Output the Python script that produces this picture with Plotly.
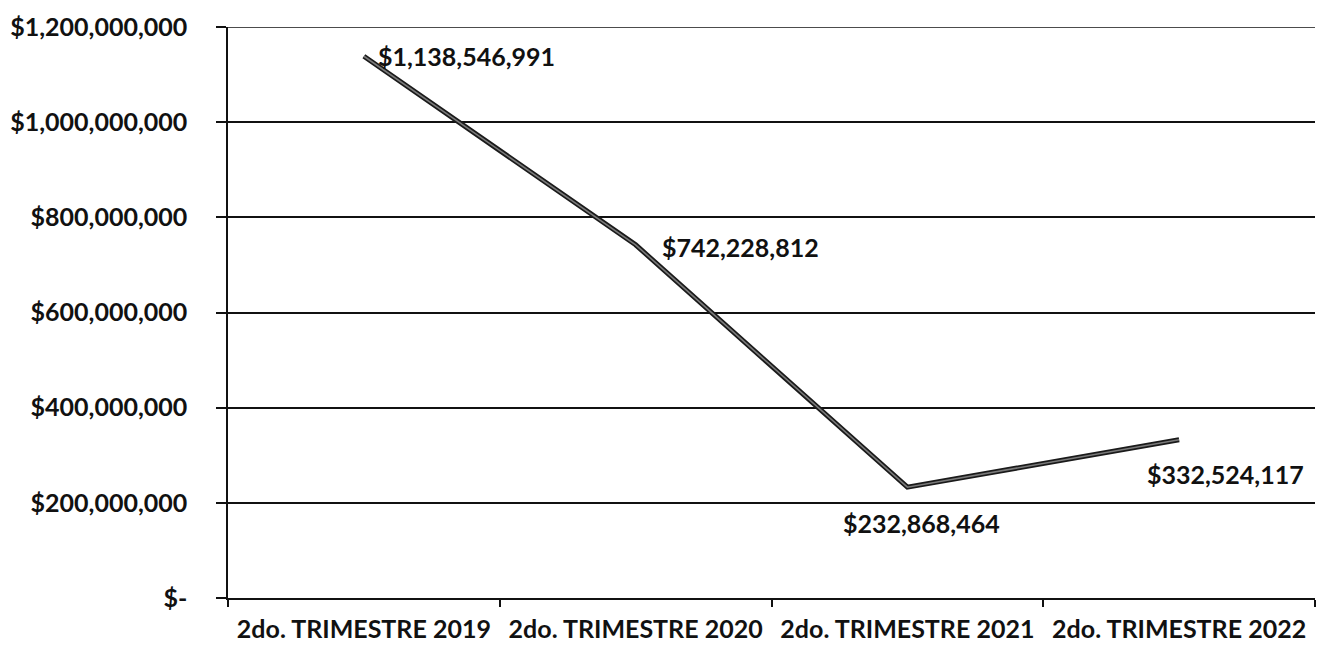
import plotly.graph_objects as go

# Quarterly amounts
periods = ["2do. TRIMESTRE 2019", "2do. TRIMESTRE 2020", "2do. TRIMESTRE 2021", "2do. TRIMESTRE 2022"]
amounts = [1138546991, 742228812, 232868464, 332524117]

y_ticks = [0, 200000000, 400000000, 600000000, 800000000, 1000000000, 1200000000]
y_tick_text = ["$-", "$200,000,000", "$400,000,000", "$600,000,000",
               "$800,000,000", "$1,000,000,000", "$1,200,000,000"]
y_max = y_ticks[-1]

FONT = "Lato"
SIZE = 25
INK = "#111"

fig = go.Figure()

# dark outer stroke
fig.add_trace(go.Scatter(
    x=periods, y=amounts, mode="lines",
    line=dict(color="#1a1a1a", width=5),
    hoverinfo="skip", showlegend=False,
))
# lighter inner stroke
fig.add_trace(go.Scatter(
    x=periods, y=amounts, mode="lines",
    line=dict(color="#7a7a7a", width=1.6),
    showlegend=False,
))

# value labels: placement per point (xanchor, yanchor, xshift, yshift)
label_pos = [
    ("left", "middle", 12, 0),
    ("left", "middle", 24, -2),
    ("center", "top", 14, -19),
    ("center", "top", 46, -17),
]
for p, v, (xa, ya, xs, ys) in zip(periods, amounts, label_pos):
    fig.add_annotation(
        x=p, y=v, text=f"${v:,}", showarrow=False,
        xanchor=xa, yanchor=ya, xshift=xs, yshift=ys,
        font=dict(family=FONT, size=SIZE, color=INK, weight="bold"),
    )

# gridline at the top of the value range (plotly skips the edge gridline)
fig.add_shape(
    type="line", xref="paper", yref="y", x0=-0.009, x1=1, y0=y_max, y1=y_max,
    line=dict(color=INK, width=1.5), layer="below",
)

fig.update_layout(
    width=1317, height=645,
    margin=dict(l=228, r=2, t=27, b=47),
    paper_bgcolor="white", plot_bgcolor="white",
    font=dict(family=FONT, size=SIZE, color=INK, weight="bold"),
    xaxis=dict(
        type="category", range=[-0.5, 3.5],
        tickson="boundaries", ticks="outside", ticklen=7, tickwidth=1.5,
        tickcolor=INK, showline=True, linecolor=INK, linewidth=1.5,
        showgrid=False, zeroline=False, ticklabelstandoff=8,
        tickfont=dict(family=FONT, size=SIZE, color=INK, weight="bold"),
    ),
    yaxis=dict(
        range=[0, y_max], tickvals=y_ticks, ticktext=y_tick_text,
        ticks="outside", ticklen=10, tickwidth=1.5, tickcolor=INK,
        showline=True, linecolor=INK, linewidth=1.5,
        showgrid=True, gridcolor=INK, gridwidth=1.5,
        zeroline=False, ticklabelstandoff=24,
        tickfont=dict(family=FONT, size=SIZE, color=INK, weight="bold"),
    ),
)

fig.write_html("out.html")
